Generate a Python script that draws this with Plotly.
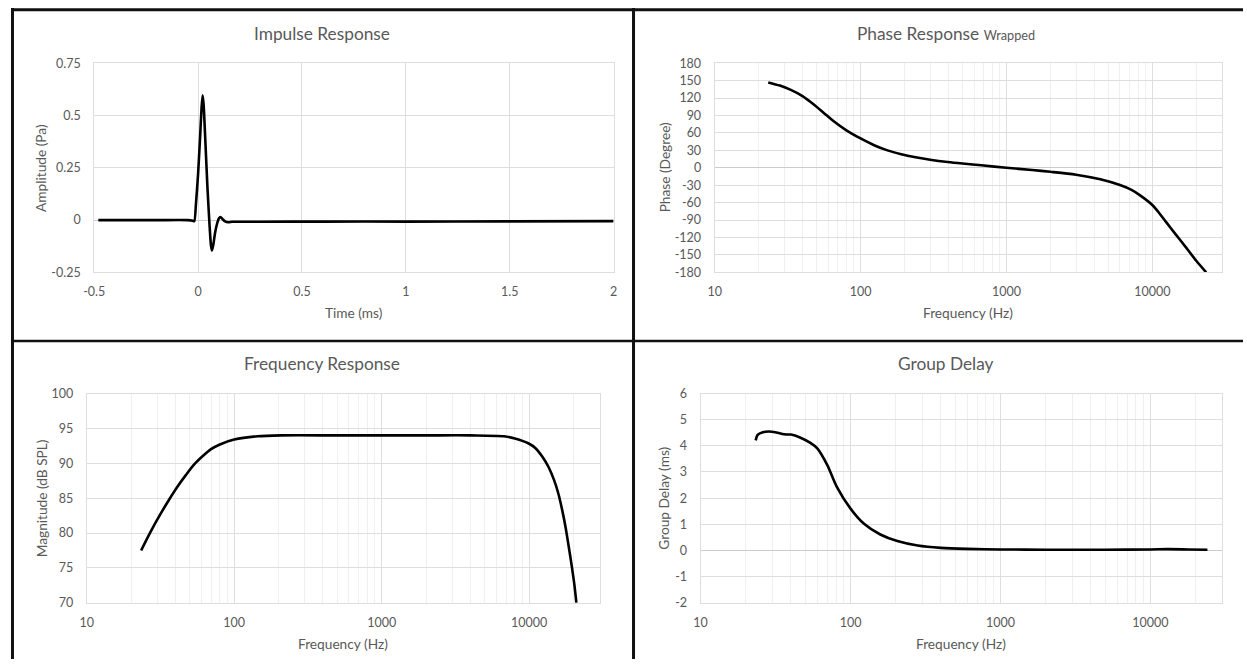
import math
import plotly.graph_objects as go

# ---------------- data ----------------
# Impulse response
time_ms = [-0.48, -0.2, -0.05, -0.025, -0.018, -0.01, 0.0, 0.01, 0.017, 0.022,
           0.027, 0.035, 0.045, 0.055, 0.062, 0.067, 0.073, 0.082, 0.092, 0.1,
           0.108, 0.118, 0.13, 0.145, 0.165, 0.3, 0.6, 1.0, 1.5, 2.0]
amplitude_pa = [0.0, 0.0, 0.0, -0.003, -0.005, 0.08, 0.22, 0.40, 0.54, 0.597,
                0.55, 0.38, 0.16, -0.02, -0.12, -0.145, -0.12, -0.06, -0.015, 0.008,
                0.015, 0.005, -0.006, -0.01, -0.008, -0.008, -0.007, -0.007, -0.006, -0.005]

# Phase response (wrapped)
phase_freq = [23.3, 28, 33, 40, 47.6, 56, 65.5, 80, 100, 125, 153, 190, 233, 300,
              396, 500, 673, 1000, 1500, 2000, 3000, 4400, 6000, 7200, 8200, 10000,
              11000, 12400, 14500, 17000, 20000, 23400]
phase_deg = [147, 141.5, 134.5, 123.5, 109.5, 94.5, 80, 64.5, 50.5, 38.5, 30, 23.5,
             18.6, 14, 10, 7.3, 4.3, 0, -3.8, -6.8, -11.8, -19.8, -29.7, -38, -47, -64,
             -76, -93, -115, -137, -160, -180]

# Frequency response
mag_freq = [23.4, 27, 31.6, 36, 41.1, 47, 53.4, 61, 69.3, 80, 100, 144, 208, 500,
            1000, 2000, 4010, 6760, 8000, 10000, 11000, 12330, 13500, 14780, 15800,
            16860, 17700, 18530, 19400, 20250, 20900]
mag_db = [77.5, 80.1, 82.7, 84.7, 86.6, 88.3, 89.8, 91.0, 92.0, 92.7, 93.4, 93.87,
          94.0, 94.0, 94.0, 94.0, 94.0, 93.87, 93.55, 92.8, 92.2, 90.9, 89.5, 87.55,
          85.6, 83.0, 80.7, 78.1, 75.4, 72.6, 70.0]

# Group delay
gd_freq = [23.3, 24, 26, 28.5, 32, 36, 40, 46, 54, 60, 70, 81, 100, 123, 158,
           205, 280, 400, 600, 1000, 2000, 5000, 10000, 13000, 18000, 24000]
gd_ms = [4.21, 4.42, 4.52, 4.55, 4.51, 4.44, 4.43, 4.32, 4.11, 3.9, 3.26, 2.43,
         1.6, 1.02, 0.61, 0.36, 0.19, 0.10, 0.06, 0.04, 0.03, 0.03, 0.04, 0.05,
         0.04, 0.03]

# Tick labels
imp_x_ticks = [-0.5, 0, 0.5, 1, 1.5, 2]
imp_x_text = ["-0.5", "0", "0.5", "1", "1.5", "2"]
imp_y_ticks = [-0.25, 0, 0.25, 0.5, 0.75]
imp_y_text = ["-0.25", "0", "0.25", "0.5", "0.75"]
phase_ticks = list(range(-180, 181, 30))
phase_text = [str(v) for v in phase_ticks]
mag_ticks = [70, 75, 80, 85, 90, 95, 100]
mag_text = [str(v) for v in mag_ticks]
gd_ticks = [-2, -1, 0, 1, 2, 3, 4, 5, 6]
gd_text = [str(v) for v in gd_ticks]
log_major = [10, 100, 1000, 10000]
log_major_text = ["10", "100", "1000", "10000"]
log_minor = [m * d for d in (10, 100, 1000, 10000) for m in range(2, 10)] + [20000, 30000]

# ---------------- layout ----------------
W, H = 1247, 666
FONT = "Lato, Carlito, Calibri, sans-serif"
TXT = "#595959"
GRID = "#dedede"
MINOR = "#f0f0f0"
ZERO = "#cccccc"


def fx(px):
    """figure x pixel -> paper fraction"""
    return px / W


def fy(py):
    """figure y pixel (from top) -> paper fraction"""
    return 1 - py / H


# plot areas in figure pixels: (left, right, top, bottom)
areas = {
    1: (84.2, 609.9, 56.5, 270.5),
    2: (712.2, 1225.7, 56.5, 270.5),
    3: (76.6, 595.7, 394.4, 608.5),
    4: (698.0, 1225.7, 394.4, 608.5),
}


def xdom(a):
    return [fx(a[0]), fx(a[1])]


def ydom(a):
    return [fy(a[3]), fy(a[2])]


fig = go.Figure()
line = dict(color="black", width=2.6)
fig.add_trace(go.Scatter(x=time_ms, y=amplitude_pa, mode="lines",
                         line=dict(**line, shape="spline", smoothing=0.6), xaxis="x", yaxis="y"))
fig.add_trace(go.Scatter(x=phase_freq, y=phase_deg, mode="lines",
                         line=dict(**line, shape="spline", smoothing=0.8), xaxis="x2", yaxis="y2"))
fig.add_trace(go.Scatter(x=mag_freq, y=mag_db, mode="lines",
                         line=dict(**line, shape="spline", smoothing=0.8), xaxis="x3", yaxis="y3"))
fig.add_trace(go.Scatter(x=gd_freq, y=gd_ms, mode="lines",
                         line=dict(**line, shape="spline", smoothing=0.8), xaxis="x4", yaxis="y4"))

tickfont = dict(family=FONT, size=12.5, color=TXT)

common_x = dict(showline=True, linecolor=GRID, linewidth=1, mirror=True, ticks="", tickfont=tickfont,
                gridcolor=GRID, gridwidth=1, zeroline=False, ticklabelstandoff=8, fixedrange=True)
common_y = dict(showline=True, linecolor=GRID, linewidth=1, mirror=True, ticks="", tickfont=tickfont,
                gridcolor=GRID, gridwidth=1, zeroline=True, zerolinecolor=ZERO, zerolinewidth=1,
                ticklabelstandoff=10, fixedrange=True)

log_x = dict(type="log", range=[1, math.log10(30000)], tickvals=log_major, ticktext=log_major_text,
             minor=dict(tickvals=log_minor, showgrid=True, gridcolor=MINOR, gridwidth=1, ticks=""))

fig.update_layout(
    width=W, height=H, margin=dict(l=0, r=0, t=0, b=0),
    paper_bgcolor="white", plot_bgcolor="white", showlegend=False,
    xaxis=dict(domain=xdom(areas[1]), anchor="y", range=[-0.5, 2], tickvals=imp_x_ticks,
               ticktext=imp_x_text, **common_x),
    yaxis=dict(domain=ydom(areas[1]), anchor="x", range=[-0.25, 0.75], tickvals=imp_y_ticks,
               ticktext=imp_y_text, **common_y),
    xaxis2=dict(domain=xdom(areas[2]), anchor="y2", **log_x, **common_x),
    yaxis2=dict(domain=ydom(areas[2]), anchor="x2", range=[-180, 180], tickvals=phase_ticks,
                ticktext=phase_text, **common_y),
    xaxis3=dict(domain=xdom(areas[3]), anchor="y3", **log_x, **common_x),
    yaxis3=dict(domain=ydom(areas[3]), anchor="x3", range=[70, 100], tickvals=mag_ticks,
                ticktext=mag_text, **common_y),
    xaxis4=dict(domain=xdom(areas[4]), anchor="y4", **log_x, **common_x),
    yaxis4=dict(domain=ydom(areas[4]), anchor="x4", range=[-2, 6], tickvals=gd_ticks,
                ticktext=gd_text, **common_y),
)

# titles and axis titles
annots = []


def ann(x, y, text, size, angle=0):
    annots.append(dict(x=fx(x), y=fy(y), xref="paper", yref="paper", text=text, showarrow=False,
                       font=dict(family=FONT, size=size, color=TXT), textangle=angle,
                       xanchor="center", yanchor="middle"))


ann(314.6, 25.8, "Impulse Response", 17.3)
ann(946.1, 25.8, "Phase Response <span style='font-size:12.7px'>Wrapped</span>", 17.3)
ann(314.6, 363.7, "Frequency Response", 17.3)
ann(946.6, 363.7, "Group Delay", 17.3)

ann((areas[1][0] + areas[1][1]) / 2, 311.5, "Time (ms)", 13.7)
ann((areas[2][0] + areas[2][1]) / 2, 311.5, "Frequency (Hz)", 13.7)
ann((areas[3][0] + areas[3][1]) / 2, 650.4, "Frequency (Hz)", 13.7)
ann((areas[4][0] + areas[4][1]) / 2, 650.4, "Frequency (Hz)", 13.7)

ann(30.5, (areas[1][2] + areas[1][3]) / 2, "Amplitude (Pa)", 13.7, -90)
ann(661.5, (areas[2][2] + areas[2][3]) / 2, "Phase (Degree)", 13.7, -90)
ann(30.5, (areas[3][2] + areas[3][3]) / 2, "Magnitude (dB SPL)", 13.7, -90)
ann(660.5, (areas[4][2] + areas[4][3]) / 2, "Group Delay (ms)", 13.7, -90)

fig.update_layout(annotations=annots)

# panel frame lines
frame = dict(color="#111111", width=3)
shapes = [
    dict(type="line", xref="paper", yref="paper", x0=0, x1=1, y0=fy(1.7), y1=fy(1.7), line=frame),
    dict(type="line", xref="paper", yref="paper", x0=fx(1.5), x1=fx(1.5), y0=0, y1=1, line=frame),
    dict(type="line", xref="paper", yref="paper", x0=fx(630.1), x1=fx(630.1), y0=0, y1=1, line=frame),
    dict(type="line", xref="paper", yref="paper", x0=0, x1=1, y0=fy(340.7), y1=fy(340.7),
         line=dict(color="#111111", width=2.6)),
]
fig.update_layout(shapes=shapes)

fig.write_html("out.html")
